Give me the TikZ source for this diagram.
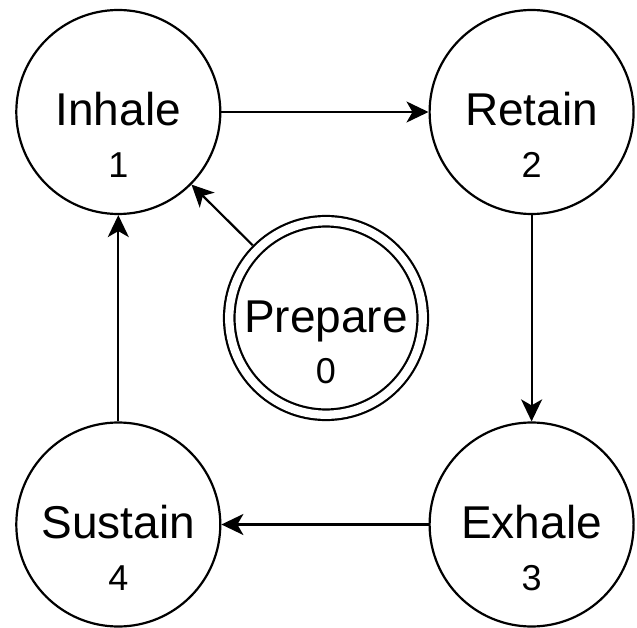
\documentclass[tikz,border=0pt]{standalone}
\usepackage{fontspec}
\setmainfont{Liberation Sans}
\usetikzlibrary{arrows.meta}
\begin{document}
\begin{tikzpicture}[x=1pt,y=-1pt,
  statebox/.style={circle,draw=black,line width=2.2pt,minimum size=204pt,inner sep=0pt},
  prepbox/.style={circle,draw=black,line width=2.2pt,double,double distance=8.3pt,minimum size=193.5pt,inner sep=0pt,outer sep=6.5pt},
  nametext/.style={anchor=base,inner sep=0pt,font=\fontsize{46}{50}\selectfont},
  numtext/.style={anchor=base,inner sep=0pt,font=\fontsize{36}{40}\selectfont},
  conn/.style={line width=2.2pt,-{Stealth[length=22pt,width=21pt,inset=6pt]}}]
\useasboundingbox (0,0) rectangle (637,628);
\node[statebox] (inhale) at (118.3,112) {};
\node[statebox] (retain) at (531.6,112) {};
\node[statebox] (exhale) at (531.6,524.5) {};
\node[statebox] (sustain) at (118.3,524.5) {};
\node[prepbox] (prepare) at (326,318) {};
\node[nametext] (inhaleT) at ([yshift=-14pt]inhale.center) {Inhale};
\node[numtext] (inhaleN) at ([yshift=-66pt]inhale.center) {1};
\node[nametext] (retainT) at ([yshift=-14pt]retain.center) {Retain};
\node[numtext] (retainN) at ([yshift=-66pt]retain.center) {2};
\node[nametext] (exhaleT) at ([yshift=-14pt]exhale.center) {Exhale};
\node[numtext] (exhaleN) at ([yshift=-66pt]exhale.center) {3};
\node[nametext] (sustainT) at ([yshift=-14pt]sustain.center) {Sustain};
\node[numtext] (sustainN) at ([yshift=-66pt]sustain.center) {4};
\node[nametext] (prepareT) at ([yshift=-14pt]prepare.center) {Prepare};
\node[numtext] (prepareN) at ([yshift=-65pt]prepare.center) {0};
\draw[conn] (inhale) -- (retain);
\draw[conn] (retain) -- (exhale);
\draw[conn] (exhale) -- (sustain);
\draw[conn] (sustain) -- (inhale);
\draw[conn] (prepare) -- (inhale);
\end{tikzpicture}
\end{document}
